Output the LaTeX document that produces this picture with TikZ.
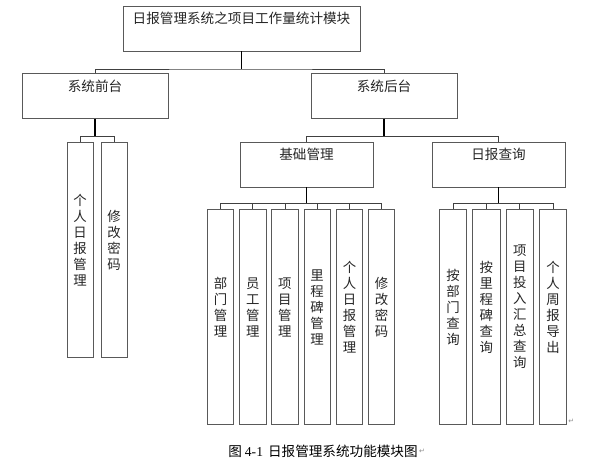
\documentclass[tikz,border=0pt]{standalone}
\usepackage{fontspec}
\setmainfont{Liberation Serif}
\newfontfamily\cjk{Noto Sans CJK SC}
\newfontfamily\symfont{DejaVu Sans}
\usetikzlibrary{positioning}

\tikzset{
  hbox/.style={draw=black!65, line width=0.9pt, fill=white, minimum width=#1,
               minimum height=45pt, inner sep=0pt},
  vbox/.style={draw=black!65, line width=0.9pt, fill=white, minimum width=#1,
               minimum height=215pt, inner sep=0pt},
  htext/.style={anchor=center, yshift=-13pt, inner sep=0pt, text=black!85,
                font=\cjk\fontsize{13.6}{15}\selectfont},
  vtext/.style={anchor=center, yshift=9.5pt, inner sep=0pt, align=center,
                text=black!85, font=\cjk\fontsize{13.4}{16}\selectfont},
  conn/.style={draw=black!75, line width=0.8pt},
  stem/.style={draw=black, line width=1.4pt},
}

\begin{document}
\begin{tikzpicture}[x=1pt,y=-1pt]
  \useasboundingbox (0,0) rectangle (589,465);

  % top level
  \node[hbox=237pt, label={[htext]north:日报管理系统之项目工作量统计模块}] (top) at (241.5,28.5) {};
  \node[hbox=146pt, label={[htext]north:系统前台}] (front) at (95,96) {};
  \node[hbox=146pt, label={[htext]north:系统后台}] (back) at (384,96) {};
  \node[hbox=133pt, label={[htext]north:基础管理}] (base) at (306.5,164.5) {};
  \node[hbox=133pt, label={[htext]north:日报查询}] (query) at (498.5,164.5) {};

  % front end
  \node[vbox=26pt, label={[vtext]center:{个\\人\\日\\报\\管\\理}}] (f1) at (80,249.5) {};
  \node[vbox=26pt, label={[vtext]center:{修\\改\\密\\码}}] (f2) at (114,249.5) {};

  % base management
  \node[vbox=26.3pt, label={[vtext]center:{部\\门\\管\\理}}] (b1) at (220.5,316.5) {};
  \node[vbox=26.3pt, label={[vtext]center:{员\\工\\管\\理}}] (b2) at (252.8,316.5) {};
  \node[vbox=26.3pt, label={[vtext]center:{项\\目\\管\\理}}] (b3) at (284.9,316.5) {};
  \node[vbox=26.3pt, label={[vtext]center:{里\\程\\碑\\管\\理}}] (b4) at (317.1,316.5) {};
  \node[vbox=26.3pt, label={[vtext]center:{个\\人\\日\\报\\管\\理}}] (b5) at (349.5,316.5) {};
  \node[vbox=26.3pt, label={[vtext]center:{修\\改\\密\\码}}] (b6) at (381.5,316.5) {};

  % report query
  \node[vbox=27.3pt, label={[vtext]center:{按\\部\\门\\查\\询}}] (q1) at (453,316.5) {};
  \node[vbox=27.3pt, label={[vtext]center:{按\\里\\程\\碑\\查\\询}}] (q2) at (486.3,316.5) {};
  \node[vbox=27.3pt, label={[vtext]center:{项\\目\\投\\入\\汇\\总\\查\\询}}] (q3) at (519.7,316.5) {};
  \node[vbox=27.3pt, label={[vtext]center:{个\\人\\周\\报\\导\\出}}] (q4) at (553,316.5) {};

  % connectors
  \coordinate (j0) at (241.5,69);
  \draw[stem] (top.south) -- (j0);
  \draw[conn] (front.north) |- (j0) -| (back.north);

  \coordinate (j1) at ([yshift=-17pt]front.south);
  \draw[stem] (front.south) -- (j1);
  \draw[conn] (f1.north) |- (j1) -| (f2.north);

  \coordinate (j2) at ([yshift=-17pt]back.south);
  \draw[stem] (back.south) -- (j2);
  \draw[conn] (base.north) |- (j2) -| (query.north);

  \coordinate (j3) at ([yshift=-16pt]base.south);
  \draw[stem] (base.south) -- (j3);
  \draw[conn] (b1.north) |- (j3) -| (b6.north);
  \foreach \n in {b2,b3,b4,b5}
    \draw[conn] (\n.north) -- (\n.north |- j3);

  \coordinate (j4) at ([yshift=-16pt]query.south);
  \draw[stem] (query.south) -- (j4);
  \draw[conn] (q1.north) |- (j4) -| (q4.north);
  \foreach \n in {q2,q3}
    \draw[conn] (\n.north) -- (\n.north |- j4);

  % caption
  \node[font=\cjk\fontsize{13.6}{15}\selectfont, inner sep=0pt] (cap) at (323,451)
       {图\hspace{3pt}{\rmfamily 4-1}\hspace{5pt}日报管理系统功能模块图};
  \node[font=\symfont\fontsize{7}{7}\selectfont, text=black!45, inner sep=0pt,
        right=1pt of cap] (ret1) {↵};
  \node[font=\symfont\fontsize{7}{7}\selectfont, text=black!45, inner sep=1pt,
        anchor=south west] (ret2) at (q4.south east) {↵};
\end{tikzpicture}
\end{document}
